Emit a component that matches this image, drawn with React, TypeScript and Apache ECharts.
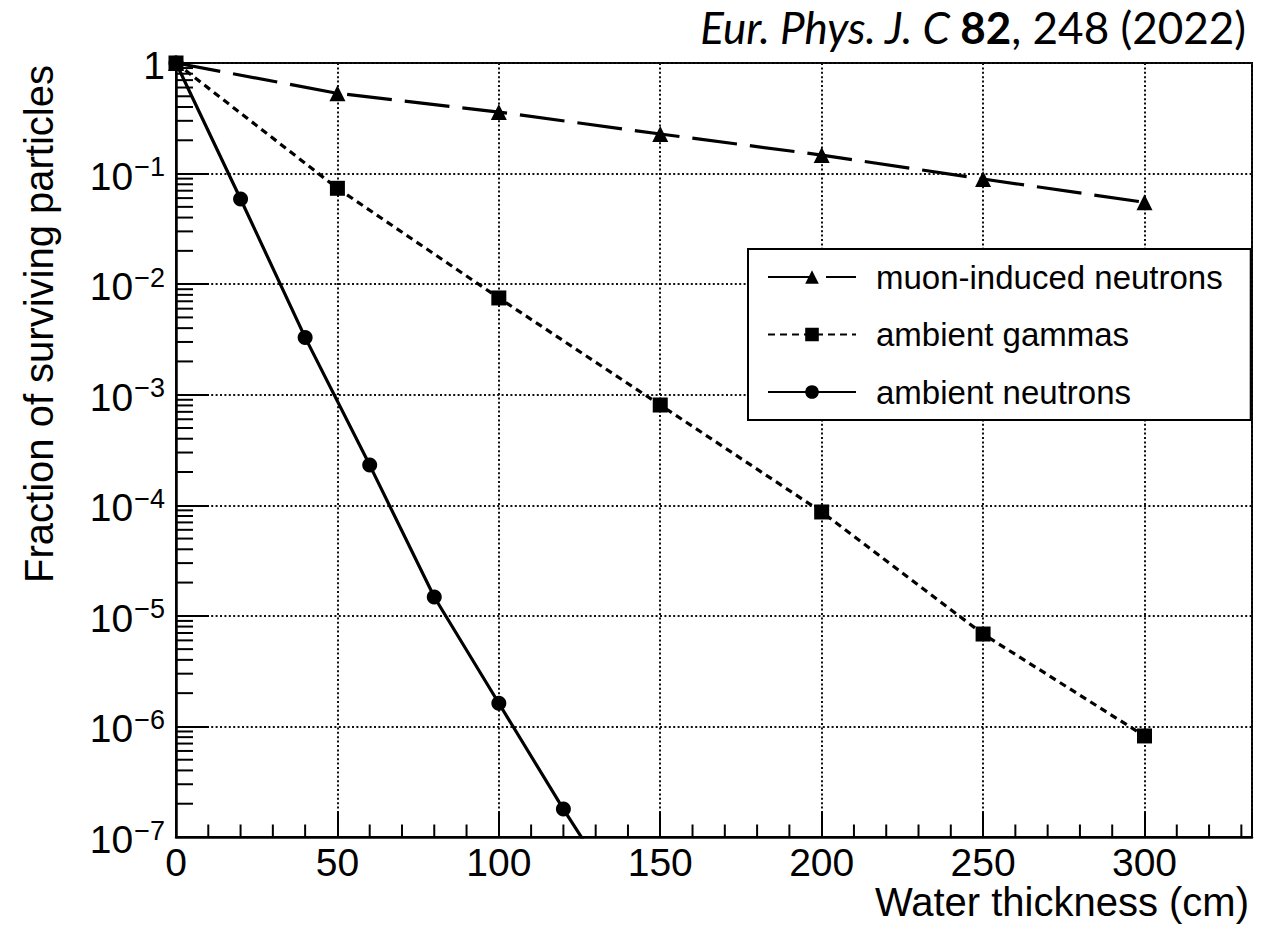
import React, { useEffect, useRef } from "react";
import * as echarts from "echarts";

// ---- data ----
const seriesNames = ["muon-induced neutrons", "ambient gammas", "ambient neutrons"];
const thicknessMuon = [0, 50, 100, 150, 200, 250, 300];
const muonNeutrons = [1, 0.532, 0.36, 0.228, 0.147, 0.0893, 0.055];
const thicknessGamma = [0, 50, 100, 150, 200, 250, 300];
const ambientGammas = [1, 0.0736, 0.0075, 8.07e-4, 8.7e-5, 6.85e-6, 8.2e-7];
const thicknessNeutron = [0, 20, 40, 60, 80, 100, 120, 140];
const ambientNeutrons = [1, 0.0589, 3.3e-3, 2.31e-4, 1.48e-5, 1.62e-6, 1.79e-7, 2.2e-8];
const xMin = 0;
const xMax = 333.3;
const xMajor = 50;
const xMinorStep = 10;
const yMin = 1e-7;
const yMax = 1;

const FONT = "'Liberation Sans', Arial, Helvetica, sans-serif";

// axis decoration: minor tick positions
const yMinorTicks: number[] = [];
for (let e = -7; e < 0; e++) {
  for (let m = 2; m <= 9; m++) yMinorTicks.push(m * Math.pow(10, e));
}
const xMinorTicks: number[] = [];
for (let v = xMinorStep; v < xMax; v += xMinorStep) {
  if (v % xMajor !== 0) xMinorTicks.push(v);
}

const pairs = (xs: number[], ys: number[]) => xs.map((x, i) => [x, ys[i]]);

export default function App() {
  const ref = useRef<HTMLDivElement>(null);
  useEffect(() => {
    if (!ref.current) return;
    const chart = echarts.init(ref.current, null, { renderer: "svg" });
    const option: any = {
      animation: false,
      backgroundColor: "#fff",
      grid: {
        left: 176,
        right: 29,
        top: 63,
        bottom: 92,
        show: true,
        borderColor: "#000",
        borderWidth: 2,
        backgroundColor: "transparent",
      },
      xAxis: {
        type: "value",
        min: xMin,
        max: xMax,
        interval: xMajor,
        axisLine: { show: true, lineStyle: { color: "#000", width: 2.5 } },
        axisTick: { show: true, inside: true, length: 25, lineStyle: { color: "#000", width: 2 } },
        axisLabel: {
          show: true,
          margin: 6,
          color: "#000",
          fontFamily: FONT,
          fontSize: 39,
          formatter: (v: number) => (Math.abs(v % xMajor) < 1e-9 ? String(v) : ""),
        },
        splitLine: { show: true, lineStyle: { color: "#111", width: 2, type: [2, 2.4] } },
      },
      yAxis: {
        type: "log",
        logBase: 10,
        min: yMin,
        max: yMax,
        splitNumber: 7,
        axisLine: { show: true, lineStyle: { color: "#000", width: 2.5 } },
        axisTick: { show: true, inside: true, length: 33, lineStyle: { color: "#000", width: 2 } },
        axisLabel: {
          show: true,
          margin: 11,
          color: "#000",
          padding: [5, 0, 0, 0],
          formatter: (v: number) => {
            const e = Math.round(Math.log10(v));
            return e === 0 ? "{n|1}" : `{n|10}{s|\u2212${-e}}`;
          },
          rich: {
            n: { fontFamily: FONT, fontSize: 39, lineHeight: 39, color: "#000", verticalAlign: "middle" },
            s: {
              fontFamily: FONT,
              fontSize: 27,
              lineHeight: 27,
              color: "#000",
              verticalAlign: "middle",
              padding: [0, 0, 18, 1],
            },
          },
        },
        splitLine: { show: true, lineStyle: { color: "#111", width: 2, type: [2, 2.4] } },
      },
      legend: {
        data: seriesNames,
        orient: "vertical",
        left: 748,
        top: 249,
        itemWidth: 88,
        itemHeight: 17,
        itemGap: 24.5,
        padding: [11.5, 28, 11.5, 19],
        backgroundColor: "#fff",
        borderColor: "#000",
        borderWidth: 2,
        borderRadius: 0,
        selectedMode: false,
        textStyle: {
          fontFamily: FONT,
          fontSize: 33,
          lineHeight: 33,
          color: "#000",
          padding: [0, 0, 0, 15],
        },
      },
      graphic: [
        {
          type: "text",
          x: 1246,
          y: 27,
          style: {
            text: "{i|Eur. Phys. J. C }{b|82}{r|, 248 (2022)}",
            align: "right",
            verticalAlign: "middle",
            rich: {
              i: { fontFamily: "Lato", fontSize: 44, fontStyle: "italic", fill: "#000", color: "#000" },
              b: { fontFamily: "Lato", fontSize: 44, fontWeight: "bold", fill: "#000", color: "#000" },
              r: { fontFamily: "Lato", fontSize: 44, fill: "#000", color: "#000" },
            },
          },
        },
        {
          type: "text",
          x: 1249,
          y: 902,
          style: {
            text: "Water thickness (cm)",
            fontFamily: FONT,
            fontSize: 40,
            fill: "#000",
            align: "right",
            verticalAlign: "middle",
          },
        },
        {
          type: "text",
          x: 39,
          y: 65,
          rotation: Math.PI / 2,
          style: {
            text: "Fraction of surviving particles",
            fontFamily: FONT,
            fontSize: 40,
            fill: "#000",
            align: "right",
            verticalAlign: "middle",
          },
        },
      ],
      series: [
        {
          name: seriesNames[0],
          type: "line",
          data: pairs(thicknessMuon, muonNeutrons),
          symbol: "triangle",
          symbolSize: 16,
          clip: true,
          itemStyle: { color: "#000" },
          lineStyle: { color: "#000", width: 3.2, type: [45, 13] },
          z: 5,
        },
        {
          name: seriesNames[1],
          type: "line",
          data: pairs(thicknessGamma, ambientGammas),
          symbol: "rect",
          symbolSize: 15,
          clip: true,
          itemStyle: { color: "#000" },
          lineStyle: { color: "#000", width: 3.2, type: [7, 5] },
          z: 5,
        },
        {
          name: seriesNames[2],
          type: "line",
          data: pairs(thicknessNeutron, ambientNeutrons),
          symbol: "circle",
          symbolSize: 15,
          clip: true,
          itemStyle: { color: "#000" },
          lineStyle: { color: "#000", width: 3.2 },
          z: 5,
        },
        {
          name: "yMinorTicks",
          type: "custom",
          silent: true,
          z: 6,
          data: yMinorTicks.map((v) => [xMin, v]),
          renderItem: (params: any, api: any) => {
            const p = api.coord([xMin, api.value(1)]);
            return {
              type: "line",
              shape: { x1: p[0], y1: p[1], x2: p[0] + 17, y2: p[1] },
              style: { stroke: "#000", lineWidth: 2 },
            };
          },
        },
        {
          name: "xMinorTicks",
          type: "custom",
          silent: true,
          z: 6,
          data: xMinorTicks.map((v) => [v, yMin]),
          renderItem: (params: any, api: any) => {
            const p = api.coord([api.value(0), yMin]);
            return {
              type: "line",
              shape: { x1: p[0], y1: p[1], x2: p[0], y2: p[1] - 12.5 },
              style: { stroke: "#000", lineWidth: 2 },
            };
          },
        },
      ],
    };
    chart.setOption(option);
    return () => chart.dispose();
  }, []);
  return (
    <div
      ref={ref}
      style={{ position: "fixed", left: 0, top: 0, width: 1281, height: 929, background: "#fff" }}
    />
  );
}
